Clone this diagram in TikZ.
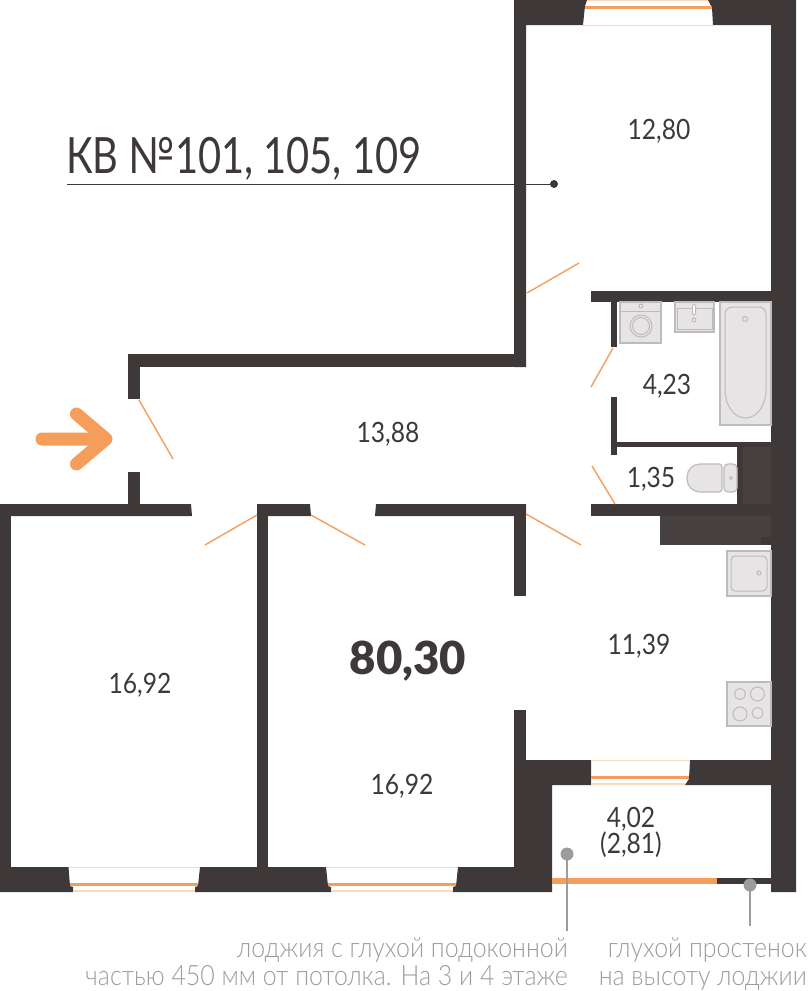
\documentclass[tikz,border=0pt]{standalone}
\usepackage{fontspec}
\setmainfont{Lato}[UprightFont=* Light,BoldFont=* Black]
\newfontfamily\areafont{Lato}[FakeStretch=0.88]
\newfontfamily\titlefont{Lato}[FakeStretch=0.797]
\newfontfamily\notefont{Lato}[UprightFont=* Light,FakeStretch=0.89]
\definecolor{wallc}{HTML}{3E3938}
\definecolor{shaftc}{HTML}{474241}
\definecolor{orangec}{HTML}{F59E5B}
\definecolor{palec}{HTML}{FBD9B8}
\definecolor{fixc}{HTML}{E6E4E4}
\definecolor{fixl}{HTML}{BDBBBB}
\definecolor{notec}{HTML}{9C9C9C}
\tikzset{
  wall/.style={fill=wallc},
  shaft/.style={fill=shaftc},
  door/.style={draw=orangec, line width=1.4pt},
  fixture/.style={draw=fixl, fill=fixc, line width=1.2pt},
  fixline/.style={draw=fixl, line width=1pt},
  area/.style={text=wallc, font=\areafont\fontsize{28}{30}\selectfont, inner sep=0pt},
  note/.style={text=notec, font=\notefont\fontsize{28}{28}\selectfont, inner sep=0pt, align=right},
  leader/.style={draw=notec, line width=1.5pt},
}
\begin{document}
\begin{tikzpicture}[x=1pt,y=-1pt]
\useasboundingbox (0,0) rectangle (808,991);
%% walls of the top room and the right side
\fill[wall] (514,0) -- (587,0) -- (585,6) -- (583,25) -- (526,25) -- (526,367) -- (514,367) -- cycle;
\fill[wall] (708,0) -- (796,0) -- (796,892) -- (771,892) -- (771,25) -- (713,25) -- (712,8) -- cycle;
%% corridor
\fill[wall] (128,354) rectangle (526,367);
\fill[wall] (128,354) rectangle (140,399);
\fill[wall] (128,472) rectangle (140,505);
\fill[wall] (0,504) -- (191,504) -- (192,516) -- (0,516) -- cycle;
\fill[wall] (257,504) -- (310,504) -- (311,516) -- (257,516) -- cycle;
\fill[wall] (376,504) -- (526,504) -- (526,516) -- (375,516) -- cycle;
%% bath and toilet
\fill[wall] (591,291) rectangle (771,302);
\fill[wall] (611,302) rectangle (617,347);
\fill[wall] (611,397) rectangle (617,455);
\fill[wall] (617,442) rectangle (771,447);
\fill[wall] (737,447) rectangle (771,504);
\fill[shaft] (743,447) rectangle (771,504);
\fill[wall] (591,504) rectangle (771,516);
\fill[shaft] (660,516) rectangle (771,545);
\fill[wall] (761,537) rectangle (771,545);
%% room dividers
\fill[wall] (514,516) rectangle (526,596);
\fill[wall] (514,710) rectangle (526,870);
\fill[wall] (0,516) rectangle (11,870);
\fill[wall] (257,516) rectangle (268,870);
%% bottom wall with the window openings
\fill[wall] (0,867) -- (68.5,867) -- (70,886) -- (73,887) -- (73,892) -- (0,892) -- cycle;
\fill[wall] (200,867) -- (326,867) -- (328,886) -- (331,887) -- (331,892) -- (195,892) -- (195,887) -- (198,886) -- cycle;
\fill[wall] (458,867) -- (526,867) -- (526,760) -- (591,760) -- (591,785) -- (552,785) -- (552,892) -- (453,892) -- (453,887) -- (456,886) -- cycle;
\fill[wall] (690,760) -- (771,760) -- (771,785) -- (685,785) -- (689,779) -- cycle;
%% windows
\fill[palec] (583,24.5) rectangle (713,25.5);
\fill[palec] (587,0) rectangle (708,1);
\fill[orangec] (585,6) rectangle (712,8.5);
\fill[palec] (68.5,867) rectangle (200,868);
\fill[orangec] (70,883) rectangle (198,886);
\fill[palec] (73,890) rectangle (195,892);
\fill[palec] (326,867) rectangle (458,868);
\fill[orangec] (328,883) rectangle (456,886);
\fill[palec] (331,890) rectangle (453,892);
\fill[palec] (591,760) rectangle (690,761);
\fill[orangec] (591,776) rectangle (689,779);
\fill[palec] (591,783) rectangle (685,785);
%% loggia edge
\fill[orangec] (552,878) rectangle (717,884);
\fill[wall] (717,878) rectangle (771,884);
%% doors
\draw[door] (139,400) -- (173,459);
\draw[door] (257,515) -- (205,545);
\draw[door] (311,515) -- (365,545);
\draw[door] (526,514) -- (581,545);
\draw[door] (527,293) -- (579,263);
\draw[door] (613,348) -- (591,387);
\draw[door] (615,504) -- (592,466);
%% entrance arrow
\draw[orangec, line width=13pt, line cap=round, line join=round] (42,439) -- (106,439) (76.5,414) -- (106,439) -- (76.5,464);
%% washer, basin, bath
\draw[fixture] (620,302) rectangle (661,343);
\draw[fixline] (620,311) -- (661,311);
\draw[fixline] (641,306) circle (2);
\draw[fixline] (641,326) circle (11);
\draw[fixline] (641,326) circle (8.5);
\draw[fixture] (675,302) rectangle (714,332);
\draw[fixline] (677,308) rectangle (712,329);
\draw[fixline, fill=white, rounded corners=1.5pt] (692.5,304) rectangle (695.5,315);
\draw[fixline] (694,320) circle (2);
\draw[fixture] (720,302) rectangle (771,425);
\draw[fixline, rounded corners=7pt] (725,390) -- (725,307) -- (766,307) -- (766,390);
\draw[fixline] (766,390) arc (0:180:20.5 and 28);
\draw[fixline] (745,319) circle (2.5);
%% toilet
\draw[fixture, rounded corners=3pt] (722,464) -- (722,492) [rounded corners=13pt] -- (687,492) -- (687,464) [rounded corners=3pt] -- cycle;
\draw[fixture, rounded corners=4pt] (737,464) -- (737,492) -- (724,492) -- (724,464) -- cycle;
\draw[fixline] (731,478) circle (1.5);
%% kitchen
\draw[fixture] (727,551) rectangle (771,596);
\draw[fixline, rounded corners=4pt] (731,556) rectangle (767,591);
\draw[fixline] (759,573) circle (2);
\draw[fixture] (727,682) rectangle (771,726);
\draw[fixline] (740,694) circle (5.5);
\draw[fixline] (757.5,694) circle (7);
\draw[fixline] (740,714) circle (7);
\draw[fixline] (757.5,713) circle (5.5);
%% areas
\node[area] (kitchen) at (639,646) {11,39};
\node[area] (top) at (659,131) {12,80};
\node[area] (hall) at (388,434) {13,88};
\node[area] (bath) at (667,386) {4,23};
\node[area] (wc) at (651,479) {1,35};
\node[area] (roomleft) at (140,685) {16,92};
\node[area] (roomright) at (402,786) {16,92};
\node[area] (loggia) at (631,819) {4,02};
\node[area] (loggiab) at (631,845) {(2,81)};
\node[text=wallc, font=\fontsize{45.5}{48}\bfseries, inner sep=0pt] (total) at (408,661) {80,30};
%% title
\node[text=wallc, font=\titlefont\fontsize{50}{52}\selectfont, inner sep=0pt, anchor=base west] (title) at (66,173) {КВ №101, 105, 109};
\coordinate (titlestart) at (67,184);
\coordinate (titleend) at (554,184);
\draw[wallc, line width=1pt] (titlestart) -- (titleend);
\fill[wallc] (titleend) circle (4);
%% notes
\node[note, anchor=north east] (noteleft) at (568,937) {лоджия с глухой подоконной\\частью 450 мм от потолка. На 3 и 4 этаже};
\node[note, anchor=north east] (noteright) at (807,937) {глухой простенок\\на высоту лоджии};
\coordinate (dotleft) at (567,854);
\coordinate (dotright) at (750,885);
\draw[leader] (dotleft) -- (567,931);
\draw[leader] (dotright) -- (750,926);
\fill[notec] (dotleft) circle (6.5);
\fill[notec] (dotright) circle (6.5);
\end{tikzpicture}
\end{document}
